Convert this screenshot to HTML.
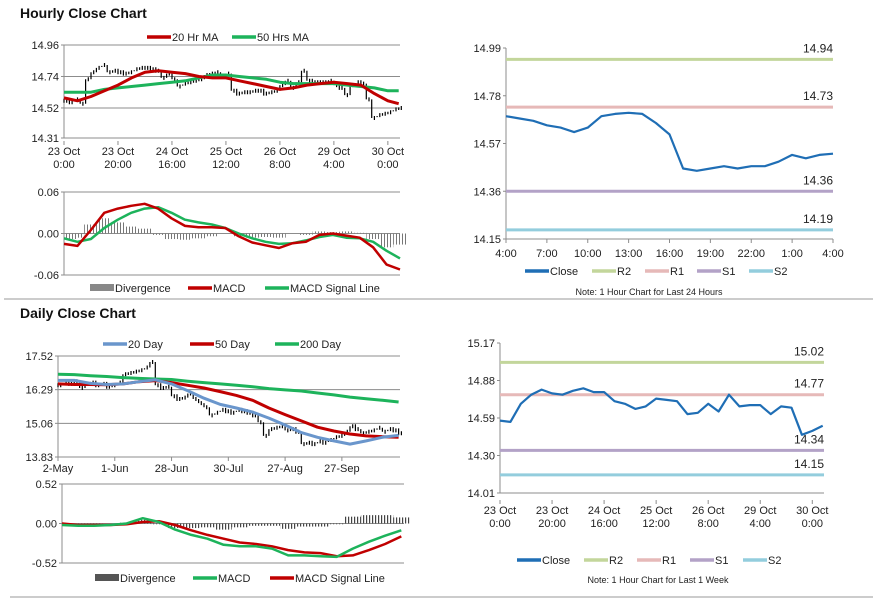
<!DOCTYPE html>
<html><head><meta charset="utf-8"><style>
html,body{margin:0;padding:0;background:#fff;}
svg{display:block;font-family:"Liberation Sans",Arial,sans-serif;}
</style></head><body>
<svg id="root" width="873" height="601" viewBox="0 0 873 601" xmlns="http://www.w3.org/2000/svg">
<defs>
<pattern id="hatchLight" width="3" height="4" patternUnits="userSpaceOnUse"><rect x="0" y="0" width="1" height="4" fill="#777"/></pattern>
<pattern id="hatchDark" width="3" height="4" patternUnits="userSpaceOnUse"><rect x="0" y="0" width="1.2" height="4" fill="#444"/></pattern>
</defs>
<text x="20" y="18" font-size="14" font-weight="bold" fill="#111">Hourly Close Chart</text>
<text x="20" y="318" font-size="14" font-weight="bold" fill="#111">Daily Close Chart</text>
<line x1="4" y1="299" x2="873" y2="299" stroke="#999" stroke-width="1"/>
<line x1="10" y1="597" x2="873" y2="597" stroke="#999" stroke-width="1"/>
</svg>
<script>
// ---------- Hourly price (step 2 bars) ----------
const hourlyClose=[14.57,14.56,14.58,14.55,14.72,14.77,14.80,14.82,14.77,14.78,14.77,14.76,14.77,14.79,14.80,14.80,14.79,14.78,14.73,14.76,14.72,14.67,14.69,14.70,14.71,14.72,14.75,14.76,14.77,14.74,14.76,14.64,14.62,14.63,14.63,14.64,14.64,14.62,14.63,14.64,14.68,14.71,14.66,14.70,14.78,14.71,14.70,14.70,14.70,14.71,14.68,14.66,14.61,14.68,14.70,14.69,14.58,14.45,14.47,14.48,14.49,14.51,14.52];
const hourlyMA20=[14.59,14.57,14.60,14.64,14.68,14.73,14.77,14.78,14.77,14.76,14.74,14.73,14.73,14.71,14.69,14.67,14.65,14.66,14.68,14.69,14.70,14.69,14.68,14.62,14.57,14.55];
const hourlyMA50=[14.63,14.63,14.63,14.65,14.66,14.67,14.68,14.69,14.70,14.71,14.73,14.75,14.75,14.74,14.73,14.72,14.70,14.69,14.69,14.69,14.69,14.68,14.67,14.66,14.64,14.64];
const hourlyTicksY=[14.31,14.52,14.74,14.96];
const hourlyTickLabels=[["23 Oct","0:00"],["23 Oct","20:00"],["24 Oct","16:00"],["25 Oct","12:00"],["26 Oct","8:00"],["29 Oct","4:00"],["30 Oct","0:00"]];
const hourlyTickBars=[0,20,40,60,80,100,120];
// ---------- Hourly MACD (step 5) ----------
const hMacd=[-0.015,-0.018,0.005,0.030,0.036,0.040,0.043,0.036,0.022,0.011,0.009,0.009,0.008,-0.004,-0.013,-0.017,-0.021,-0.014,-0.012,-0.002,0.000,-0.003,-0.006,-0.020,-0.045,-0.052];
const hSignal=[-0.007,-0.012,-0.008,0.008,0.020,0.030,0.036,0.038,0.030,0.020,0.016,0.013,0.008,0.000,-0.007,-0.012,-0.015,-0.014,-0.010,-0.005,-0.002,-0.006,-0.007,-0.012,-0.025,-0.036];
const hMacdTicks=[-0.06,0.00,0.06];
// ---------- Last 24h ----------
const dayHours=["4:00","7:00","10:00","13:00","16:00","19:00","22:00","1:00","4:00"];
const dayClose=[14.69,14.68,14.67,14.65,14.64,14.62,14.64,14.69,14.70,14.705,14.70,14.66,14.61,14.46,14.45,14.46,14.47,14.46,14.47,14.47,14.49,14.52,14.505,14.52,14.525];
const dayTicks=[14.15,14.36,14.57,14.78,14.99];
const dayLevels=[14.94,14.73,14.36,14.19];
// ---------- Last week ----------
const weekClose=[14.57,14.56,14.70,14.77,14.81,14.78,14.77,14.80,14.82,14.79,14.79,14.72,14.70,14.66,14.68,14.74,14.73,14.72,14.62,14.63,14.70,14.64,14.77,14.68,14.69,14.69,14.62,14.68,14.67,14.46,14.49,14.53];
const weekTicks=[14.01,14.30,14.59,14.88,15.17];
const weekLevels=[15.02,14.77,14.34,14.15];
// ---------- Daily price (step 2 days) ----------
const dailyClose=[16.45,16.55,16.5,16.6,16.35,16.5,16.55,16.45,16.5,16.4,16.45,16.55,16.85,16.9,16.95,17.0,17.1,17.3,16.45,16.35,16.4,16.05,15.95,16.0,16.15,15.95,15.8,15.65,15.35,15.45,15.55,15.5,15.45,15.55,15.5,15.45,15.35,15.1,14.6,14.85,14.9,14.95,14.8,14.85,14.75,14.3,14.35,14.3,14.4,14.35,14.45,14.55,14.6,14.75,14.95,14.85,14.7,14.75,14.8,14.9,14.75,14.85,14.8,14.7];
const daily20=[16.63,16.63,16.52,16.48,16.5,16.58,16.65,16.5,16.25,15.98,15.75,15.62,15.47,15.25,15.0,14.72,14.55,14.42,14.3,14.42,14.55,14.62];
const daily50=[16.5,16.48,16.48,16.47,16.5,16.58,16.62,16.55,16.45,16.35,16.22,16.08,15.9,15.62,15.38,15.15,14.92,14.78,14.67,14.6,14.57,14.55];
const daily200=[16.85,16.84,16.8,16.77,16.73,16.7,16.68,16.66,16.6,16.55,16.5,16.45,16.4,16.33,16.28,16.24,16.17,16.1,16.02,15.96,15.9,15.84];
const dailyTicksY=[13.83,15.06,16.29,17.52];
const dailyTickLabels=["2-May","1-Jun","28-Jun","30-Jul","27-Aug","27-Sep"];
const dailyTickDays=[0,21,42,63,84,105];
// ---------- Daily MACD (step 6) ----------
const dMacd=[-0.02,-0.03,-0.03,-0.02,0.0,0.07,0.02,-0.08,-0.15,-0.2,-0.28,-0.3,-0.3,-0.33,-0.42,-0.42,-0.43,-0.44,-0.33,-0.24,-0.16,-0.09];
const dSignal=[0.0,-0.02,-0.02,-0.02,-0.01,0.02,0.03,-0.02,-0.09,-0.15,-0.2,-0.25,-0.27,-0.3,-0.35,-0.38,-0.39,-0.43,-0.42,-0.35,-0.27,-0.17];
const dMacdTicks=[-0.52,0.00,0.52];

const NS="http://www.w3.org/2000/svg";
const root=document.getElementById('root');
function mk(tag,attrs,parent){const e=document.createElementNS(NS,tag);for(const k in attrs)e.setAttribute(k,attrs[k]);(parent||root).appendChild(e);return e;}
function lin(d0,d1,r0,r1){return v=>r0+(v-d0)/(d1-d0)*(r1-r0);}
function fmt(v,n){return v.toFixed(n);}
const GRID="#8c8c8c";

function yAxis(ys,ticks,x0,x1,dec,grid){
  const g=mk('g',{});
  
  
  ticks.forEach(t=>{
    if(grid){const l=mk('line',{x1:x0,x2:x1,y1:ys(t),y2:ys(t),stroke:GRID,'stroke-width':1},g);
      
      }
    const tk=mk('line',{x1:x0-3,x2:x0,y1:ys(t),y2:ys(t),stroke:GRID},g);
    
    
    const tx=mk('text',{x:x0-5,y:ys(t)+4,'font-size':11,'text-anchor':'end',fill:'#222'},g);
    
    
    tx.textContent=fmt(t,2);
  });
  return g;
}
function axisLines(x0,x1,y0,y1){
  const a=mk('line',{x1:x0,x2:x0,y1:y0,y2:y1,stroke:GRID});
  
  
  const b=mk('line',{x1:x0,x2:x1,y1:y1,y2:y1,stroke:GRID});
  
  
}
function polyline(pts,color,w,name){
  const p=mk('polyline',{points:pts.map(q=>q[0].toFixed(1)+','+q[1].toFixed(1)).join(' '),fill:'none',stroke:color,'stroke-width':w,'stroke-linejoin':'round'});
  
  
  return p;
}
function priceBars(vals,step,xs,ys,name){
  const g=mk('g',{});
  
  
  let d='';
  vals.forEach((v,i)=>{
    const x=xs(i*step);const prev=i?vals[i-1]:v;
    let a=ys(prev),b=ys(v);if(Math.abs(a-b)<3){a-=2;b+=2;}
    d+='M'+x.toFixed(1)+' '+a.toFixed(1)+'V'+b.toFixed(1);
    const x2=xs(i*step+1);
    d+='M'+x2.toFixed(1)+' '+(ys(v)-2).toFixed(1)+'V'+(ys(v)+2).toFixed(1);
  });
  const p=mk('path',{d:d,stroke:'#000','stroke-width':1.2,fill:'none'},g);
  
  
}
function legendItem(x,y,color,label,box){
  const g=mk('g',{});
  
  
  if(box){const r=mk('rect',{x:x,y:y-8,width:24,height:7,fill:color},g);
    
    }
  else{const l=mk('line',{x1:x,x2:x+24,y1:y-4,y2:y-4,stroke:color,'stroke-width':3.5},g);
    
    }
  const t=mk('text',{x:x+25,y:y,'font-size':11,fill:'#222'},g);
  
  
  t.textContent=label;
}
function twoLineLabels(labels,xsPos,y){
  labels.forEach((lb,i)=>{
    const t=mk('text',{x:xsPos[i],y:y,'font-size':11,'text-anchor':'middle',fill:'#222'});
    
    
    const s1=mk('tspan',{x:xsPos[i],dy:0},t);s1.textContent=lb[0];
    const s2=mk('tspan',{x:xsPos[i],dy:13},t);s2.textContent=lb[1];
    const tk=mk('line',{x1:xsPos[i],x2:xsPos[i],y1:y-14,y2:y-10,stroke:GRID});
    
    
  });
}
function macdPanel(x0,x1,yT,yB,ticks,macd,signal,step,nMax,macdColor,sigColor,hatch,names){
  const xs=lin(0,nMax,x0,x1),ys=lin(ticks[0],ticks[2],yB,yT);
  [ticks[2],ticks[1]].forEach(t=>{const l=mk('line',{x1:x0,x2:x1,y1:ys(t),y2:ys(t),stroke:GRID});
    
    });
  axisLines(x0,x1,yT,yB);
  yAxis(ys,ticks,x0,x1,2,false);
  const g=mk('g',{});
  
  
  const bw=(xs(step)-xs(0));
  macd.forEach((m,i)=>{
    const d=m-signal[i];const y0=ys(0),y1=ys(d);
    const r=mk('rect',{x:Math.max(x0,xs(i*step)-bw/2),y:Math.min(y0,y1),width:bw,height:Math.abs(y1-y0),fill:'url(#'+hatch+')'},g);
    
    
  });
  polyline(signal.map((v,i)=>[xs(i*step),ys(v)]),sigColor,2.5,names[1]);
  polyline(macd.map((v,i)=>[xs(i*step),ys(v)]),macdColor,2.5,names[0]);
}

// ===== Chart 1: hourly price =====
(function(){
  const x0=64,x1=400,yT=45,yB=138;
  const xs=lin(0,124.5,x0,x1),ys=lin(14.31,14.96,yB,yT);
  yAxis(ys,hourlyTicksY,x0,x1,2,true);
  axisLines(x0,x1,yT,yB);
  priceBars(hourlyClose,2,xs,ys,'hourly-price-bars');
  polyline(hourlyMA50.map((v,i)=>[xs(Math.min(i*5,124)),ys(v)]),'#1DB35B',3,'ma50-line');
  polyline(hourlyMA20.map((v,i)=>[xs(Math.min(i*5,124)),ys(v)]),'#C00000',3,'ma20-line');
  twoLineLabels(hourlyTickLabels,hourlyTickBars.map(b=>xs(b)),155);
  legendItem(147,41,'#C00000','20 Hr MA');
  legendItem(232,41,'#1DB35B','50 Hrs MA');
})();
// ===== Chart 2: hourly MACD =====
macdPanel(64,400,192,275,hMacdTicks,hMacd,hSignal,5,125,'#C00000','#1DB35B','hatchLight',['hourly-macd-line','hourly-signal-line']);
legendItem(90,292,'#888','Divergence',true);
legendItem(188,292,'#C00000','MACD');
legendItem(265,292,'#1DB35B','MACD Signal Line');

// ===== Chart 3: last 24h =====
(function(){
  const x0=506,x1=833,yT=48,yB=239;
  const xs=lin(0,24,x0,x1),ys=lin(14.15,14.99,yB,yT);
  axisLines(x0,x1,yT,yB);
  yAxis(ys,dayTicks,x0,x1,2,false);
  const cols=['#C3D69B','#E6B9B8','#B3A2C7','#93CDDD'],nm=['r2-level','r1-level','s1-level','s2-level'];
  dayLevels.forEach((v,i)=>{
    const l=mk('line',{x1:x0,x2:x1,y1:ys(v),y2:ys(v),stroke:cols[i],'stroke-width':3});
    
    
    const t=mk('text',{x:x1,y:ys(v)-7,'font-size':12,'text-anchor':'end',fill:'#222'});
    
    
    t.textContent=fmt(v,2);
  });
  polyline(dayClose.map((v,i)=>[xs(i),ys(v)]),'#1F6EB5',2.2,'close-line-24h');
  dayHours.forEach((h,i)=>{
    const x=xs(i*3);
    const tk=mk('line',{x1:x,x2:x,y1:yB,y2:yB+4,stroke:GRID});
    
    
    const t=mk('text',{x:x,y:257,'font-size':11,'text-anchor':'middle',fill:'#222'});
    
    
    t.textContent=h;
  });
  legendItem(525,275,'#1F6EB5','Close');
  legendItem(592,275,'#C3D69B','R2');
  legendItem(645,275,'#E6B9B8','R1');
  legendItem(697,275,'#B3A2C7','S1');
  legendItem(749,275,'#93CDDD','S2');
  const n=mk('text',{x:649,y:295,'font-size':9,'text-anchor':'middle',fill:'#222'});
  
  
  n.textContent='Note: 1 Hour Chart for Last 24 Hours';
})();

// ===== Chart 4: last week =====
(function(){
  const x0=500,x1=824,yT=343,yB=493;
  const xs=lin(0,124.5,x0,x1),ys=lin(14.01,15.17,yB,yT);
  axisLines(x0,x1,yT,yB);
  yAxis(ys,weekTicks,x0,x1,2,false);
  const cols=['#C3D69B','#E6B9B8','#B3A2C7','#93CDDD'],nm=['r2-level','r1-level','s1-level','s2-level'];
  weekLevels.forEach((v,i)=>{
    const l=mk('line',{x1:x0,x2:x1,y1:ys(v),y2:ys(v),stroke:cols[i],'stroke-width':3});
    
    
    const t=mk('text',{x:x1,y:ys(v)-7,'font-size':12,'text-anchor':'end',fill:'#222'});
    
    
    t.textContent=fmt(v,2);
  });
  polyline(weekClose.map((v,i)=>[xs(i*4),ys(v)]),'#1F6EB5',2.2,'close-line-week');
  twoLineLabels(hourlyTickLabels,hourlyTickBars.map(b=>xs(b)),514);
  legendItem(517,564,'#1F6EB5','Close');
  legendItem(584,564,'#C3D69B','R2');
  legendItem(637,564,'#E6B9B8','R1');
  legendItem(690,564,'#B3A2C7','S1');
  legendItem(743,564,'#93CDDD','S2');
  const n=mk('text',{x:658,y:583,'font-size':9,'text-anchor':'middle',fill:'#222'});
  
  
  n.textContent='Note: 1 Hour Chart for Last 1 Week';
})();

// ===== Chart 5: daily price =====
(function(){
  const x0=58,x1=400,yT=356,yB=457;
  const xs=lin(0,126.5,x0,x1),ys=lin(13.83,17.52,yB,yT);
  yAxis(ys,dailyTicksY,x0,x1,2,true);
  axisLines(x0,x1,yT,yB);
  priceBars(dailyClose,2,xs,ys,'daily-price-bars');
  polyline(daily200.map((v,i)=>[xs(i*6),ys(v)]),'#1DB35B',3,'ma200-line');
  polyline(daily50.map((v,i)=>[xs(i*6),ys(v)]),'#C00000',3,'ma50-day-line');
  polyline(daily20.map((v,i)=>[xs(i*6),ys(v)]),'#6A96CC',3,'ma20-day-line');
  dailyTickLabels.forEach((lb,i)=>{
    const x=xs(dailyTickDays[i]);
    const tk=mk('line',{x1:x,x2:x,y1:yB,y2:yB+4,stroke:GRID});
    
    
    const t=mk('text',{x:x,y:472,'font-size':11,'text-anchor':'middle',fill:'#222'});
    
    
    t.textContent=lb;
  });
  legendItem(103,348,'#6A96CC','20 Day');
  legendItem(190,348,'#C00000','50 Day');
  legendItem(275,348,'#1DB35B','200 Day');
})();
// ===== Chart 6: daily MACD =====
macdPanel(62,404,484,563,dMacdTicks,dMacd,dSignal,6,127,'#1DB35B','#C00000','hatchDark',['daily-macd-line','daily-signal-line']);
legendItem(95,582,'#555','Divergence',true);
legendItem(193,582,'#1DB35B','MACD');
legendItem(270,582,'#C00000','MACD Signal Line');
</script>
</body></html>
